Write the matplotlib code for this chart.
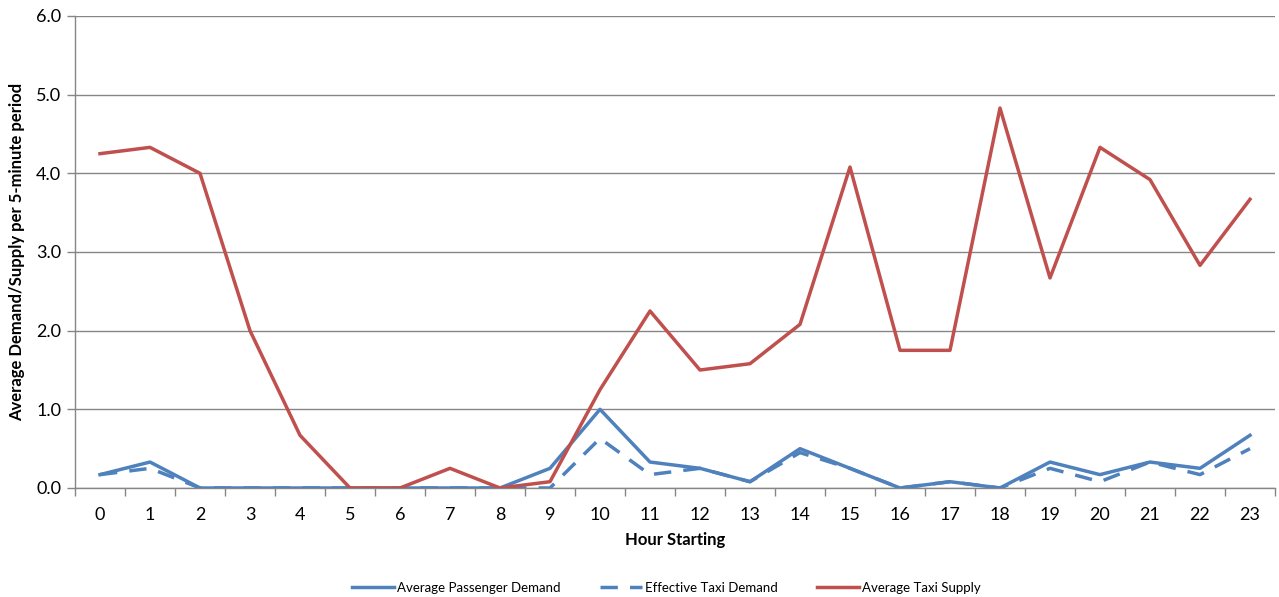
import matplotlib
matplotlib.use("Agg")
import matplotlib.pyplot as plt
import numpy as np

hours = list(range(24))
passenger_demand = [0.17, 0.33, 0, 0, 0, 0, 0, 0, 0, 0.25, 1.0, 0.33, 0.25, 0.08,
                    0.5, 0.25, 0, 0.08, 0, 0.33, 0.17, 0.33, 0.25, 0.67]
effective_demand = [0.17, 0.25, 0, 0, 0, 0, 0, 0, 0, 0, 0.63, 0.17, 0.25, 0.08,
                    0.45, 0.25, 0, 0.08, 0, 0.25, 0.08, 0.33, 0.17, 0.5]
taxi_supply = [4.25, 4.33, 4.0, 2.0, 0.67, 0, 0, 0.25, 0, 0.08, 1.25, 2.25, 1.5, 1.58,
               2.08, 4.08, 1.75, 1.75, 4.83, 2.67, 4.33, 3.92, 2.83, 3.67]
yticks = [0, 1, 2, 3, 4, 5, 6]

plt.rcParams['font.family'] = ['Lato', 'DejaVu Sans']
blue = '#4F81BD'
red = '#C0504D'
grid = '#868686'

fig = plt.figure(figsize=(12.79, 5.97), dpi=100)
ax = fig.add_axes([75/1279, 1-488/597, 1200/1279, 472/597])

ax.plot(hours, passenger_demand, color=blue, lw=2.5, label='Average Passenger Demand', zorder=3)
ax.plot(hours, effective_demand, color=blue, lw=2.5, ls=(0, (5, 3.5)), label='Effective Taxi Demand', zorder=3)
ax.plot(hours, taxi_supply, color=red, lw=2.5, label='Average Taxi Supply', zorder=3)

ax.set_xlim(-0.5, 23.5)
ax.set_ylim(0, 6)
ax.set_yticks(yticks)
ax.set_yticklabels([f"{v:.1f}" for v in yticks], fontsize=13)
ax.set_xticks(hours)
ax.set_xticklabels([str(h) for h in hours], fontsize=13)
ax.set_xticks(np.arange(-0.5, 24, 1), minor=True)
ax.tick_params(axis='x', which='major', length=0, pad=14)
ax.tick_params(axis='x', which='minor', length=6, color=grid, width=1)
ax.tick_params(axis='y', length=6, color=grid, width=1, pad=4)
ax.yaxis.grid(True, color=grid, lw=1)
ax.set_axisbelow(True)
for s in ['top', 'right']:
    ax.spines[s].set_visible(False)
for s in ['left', 'bottom']:
    ax.spines[s].set_color(grid)
    ax.spines[s].set_linewidth(1)

ax.set_xlabel('Hour Starting', fontsize=12, fontweight='bold', labelpad=6)
ax.set_ylabel('Average Demand/Supply per 5-minute period', fontsize=12, fontweight='bold', labelpad=8)

fig.legend(loc='center', bbox_to_anchor=(0.521, 1-588/597), ncol=3, frameon=False,
           fontsize=9.5, handlelength=3.2, columnspacing=3.0, handletextpad=0.2)

fig.savefig('out.png', dpi=100)
